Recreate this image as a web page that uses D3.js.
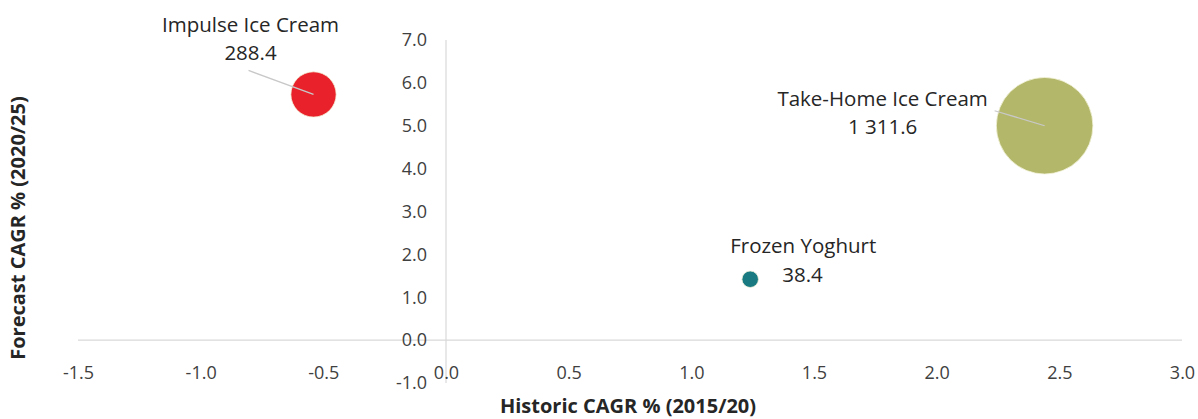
<!DOCTYPE html>
<html><head><meta charset="utf-8">
<script src="https://cdn.jsdelivr.net/npm/d3@7"></script>
<style>
body{margin:0;background:#fff;}
text{font-family:"Open Sans",sans-serif;}
</style></head>
<body>
<svg id="chart" width="1198" height="419"></svg>
<script>
const categories = ["Impulse Ice Cream", "Take-Home Ice Cream", "Frozen Yoghurt"];
const historicCagr = [-0.54, 2.44, 1.24];
const forecastCagr = [5.73, 5.0, 1.42];
const marketSize = [288.4, 1311.6, 38.4];
const sizeLabels = ["288.4", "1 311.6", "38.4"];
const colors = ["#e8212a", "#b3b76a", "#1a7a81"];
const xTicks = [-1.5, -1.0, -0.5, 0.0, 0.5, 1.0, 1.5, 2.0, 2.5, 3.0];
const yTicks = [-1.0, 0.0, 1.0, 2.0, 3.0, 4.0, 5.0, 6.0, 7.0];

const svg = d3.select("#chart");
const x = d3.scaleLinear().domain([-1.5, 3.0]).range([78, 1182]);
const y = d3.scaleLinear().domain([-1, 7]).range([383, 40]);
const r = d3.scaleSqrt().domain([0, d3.max(marketSize)]).range([0, 48.3]);
const fs = 18;
const lfs = 20.5;
const textCol = "#404040";

// x axis line at y=0
svg.append("line").attr("x1", x(-1.5)).attr("x2", x(3.0))
  .attr("y1", y(0)).attr("y2", y(0)).attr("stroke", "#d9d9d9").attr("stroke-width", 1.2);
// y axis line at x=0
svg.append("line").attr("x1", x(0)).attr("x2", x(0))
  .attr("y1", y(-1)).attr("y2", y(7)).attr("stroke", "#d9d9d9").attr("stroke-width", 1.2);

// x tick labels (low position)
const xAxis = d3.axisBottom(x).tickValues(xTicks).tickFormat(d3.format(".1f")).tickSize(0).tickPadding(0);
const gx = svg.append("g").attr("transform", `translate(0,${366})`).call(xAxis);
gx.select(".domain").remove();
gx.selectAll("text").attr("font-size", fs).attr("fill", textCol).attr("font-family", "Open Sans")
  .text(d => d3.format(".1f")(d).replace("−", "-"));

// y tick labels
const yAxis = d3.axisLeft(y).tickValues(yTicks).tickFormat(d3.format(".1f")).tickSize(0).tickPadding(0);
const gy = svg.append("g").attr("transform", `translate(${427},0)`).call(yAxis);
gy.select(".domain").remove();
gy.selectAll("text").attr("font-size", fs).attr("fill", textCol).attr("font-family", "Open Sans")
  .text(d => d3.format(".1f")(d).replace("−", "-"));

// bubbles
const data = categories.map((c, i) => ({c, hx: historicCagr[i], fy: forecastCagr[i], v: marketSize[i], lab: sizeLabels[i], col: colors[i]}));
svg.append("g").selectAll("circle").data(data).join("circle")
  .attr("cx", d => x(d.hx)).attr("cy", d => y(d.fy)).attr("r", d => r(d.v))
  .attr("fill", d => d.col).attr("stroke", "#f4f4dc").attr("stroke-width", 0.8);

function bubbleLabel(i, lx, ly1, ly2, anchor, leader, lx2, anchor2) {
  const d = data[i];
  const cx = x(d.hx), cy = y(d.fy);
  if (leader) {
    svg.append("line").attr("x1", cx + leader[0]).attr("y1", cy + leader[1])
      .attr("x2", cx).attr("y2", cy).attr("stroke", "#c8c8c8").attr("stroke-width", 1.3);
  }
  svg.append("text").attr("x", cx + lx).attr("y", cy + ly1).attr("text-anchor", anchor)
    .attr("font-size", lfs).attr("fill", "#262626").text(d.c);
  svg.append("text").attr("x", cx + (lx2 !== undefined ? lx2 : lx)).attr("y", cy + ly2)
    .attr("text-anchor", anchor2 || anchor)
    .attr("font-size", lfs).attr("fill", "#262626").text(d.lab);
}
bubbleLabel(0, -63, -62, -34, "middle", [-65, -24]);
bubbleLabel(1, -162, -20, 8, "middle", [-50, -15]);
bubbleLabel(2, 53, -26, 3, "middle", null, 32, "start");

// axis titles
svg.append("text").attr("x", 628).attr("y", 413).attr("text-anchor", "middle")
  .attr("font-size", 20).attr("font-weight", "bold").attr("fill", "#262626").text("Historic CAGR % (2015/20)");
svg.append("text").attr("transform", `translate(25,${228}) rotate(-90)`).attr("text-anchor", "middle")
  .attr("font-size", 20).attr("font-weight", "bold").attr("fill", "#262626").text("Forecast CAGR % (2020/25)");
</script>
</body></html>
